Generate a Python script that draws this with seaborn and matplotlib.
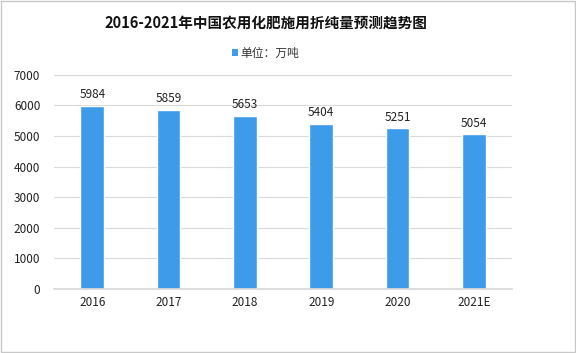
import matplotlib
matplotlib.use("Agg")
import matplotlib.pyplot as plt
import seaborn as sns
import pandas as pd
from matplotlib.patches import Rectangle

years = ["2016", "2017", "2018", "2019", "2020", "2021E"]
values = [5984, 5859, 5653, 5404, 5251, 5054]
yticks = [0, 1000, 2000, 3000, 4000, 5000, 6000, 7000]
title = "2016-2021年中国农用化肥施用折纯量预测趋势图"
legend_label = "单位：万吨"

sns.set_theme(style="white")
plt.rcParams['font.family'] = ['Noto Sans CJK SC', 'DejaVu Sans']

df = pd.DataFrame({"year": years, "value": values})
color = "#3E9BEA"

fig = plt.figure(figsize=(5.76, 3.53), dpi=100)
ax = fig.add_axes([0.094, 0.181, 0.795, 0.607])
sns.barplot(data=df, x="year", y="value", color=color, width=0.31, ax=ax, saturation=1)

ax.set_ylim(0, 7000)
ax.set_yticks(yticks)
ax.yaxis.grid(True, color="#D9D9D9", linewidth=0.8)
ax.set_axisbelow(True)
for s in ["top", "right", "left"]:
    ax.spines[s].set_visible(False)
ax.spines["bottom"].set_color("#D9D9D9")
ax.set_xlabel("")
ax.set_ylabel("")
ax.tick_params(axis="both", length=0, labelsize=8.5, colors="#222222")
ax.tick_params(axis="y", pad=10)
ax.tick_params(axis="x", pad=5)

for i, v in enumerate(values):
    ax.text(i, v + 150, str(v), ha="center", va="bottom", fontsize=8.5, color="#222222")

fig.text(0.461, 0.935, title, ha="center", va="center", fontsize=10.5, fontweight="bold", color="#111111")
fig.patches.append(Rectangle((0.403, 0.840), 0.011, 0.02, transform=fig.transFigure,
                             facecolor=color, edgecolor="none"))
fig.text(0.417, 0.850, legend_label, ha="left", va="center", fontsize=8.5, color="#333333")

fig.patches.append(Rectangle((0.001, 0.002), 0.997, 0.995, transform=fig.transFigure,
                             facecolor="none", edgecolor="#C8C8C8", linewidth=1))

fig.savefig("out.png", dpi=100)
